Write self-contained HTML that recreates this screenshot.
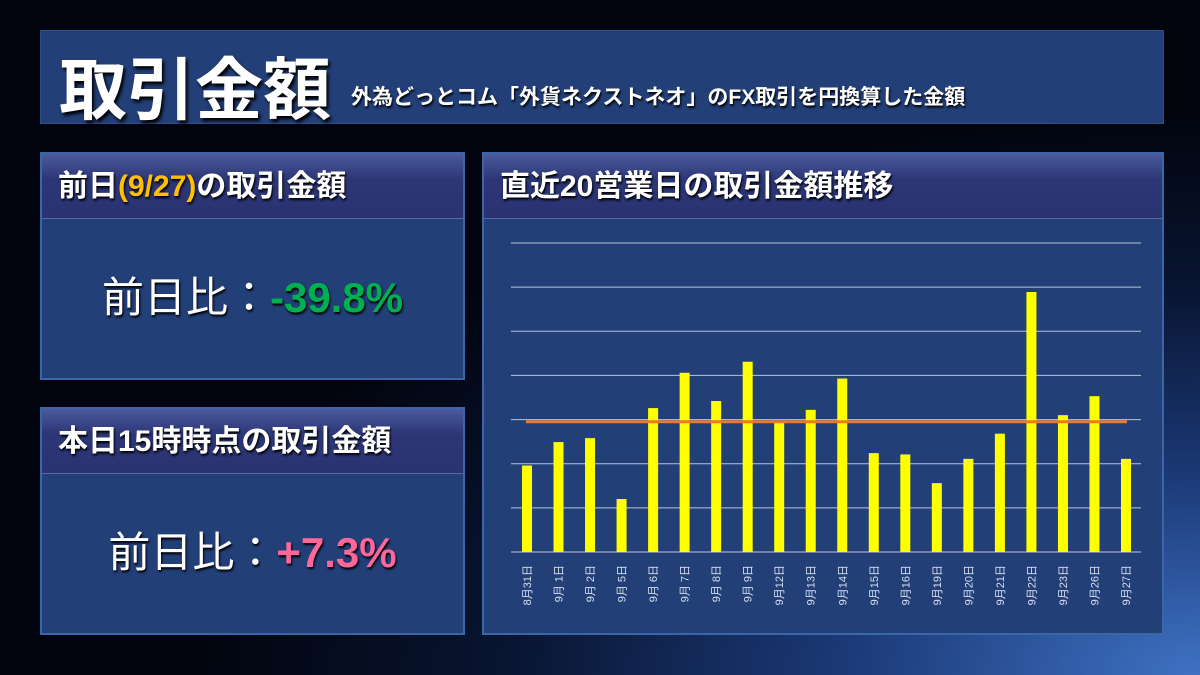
<!DOCTYPE html>
<html><head><meta charset="utf-8"><style>
*{margin:0;padding:0;box-sizing:border-box}
body{width:1200px;height:675px;overflow:hidden;font-family:"Liberation Sans","Noto Sans CJK JP",sans-serif;background:radial-gradient(ellipse 1000px 560px at 1200px 675px,#3f72c4 0%,#1c3a78 35%,#081430 70%,#02050f 100%);position:relative}
.box{position:absolute;background:#233f78;border:2px solid #3b66a8}
.hdr{position:absolute;left:0;top:0;right:0;height:65px;background:linear-gradient(#4a5a9c,#2c3676 40%,#2a3372);border-bottom:1px solid #5a68a8;color:#fff;font-weight:bold;font-size:30px;padding-left:16px;line-height:66px;text-shadow:1px 2px 2px #000}
.big{position:absolute;left:0;right:0;text-align:center;color:#fff;font-size:42px;text-shadow:1px 2px 2px #000}
</style></head><body>
<div class="box" style="left:40px;top:30px;width:1124px;height:94px;border:1px solid #2e4f8c">
<span style="position:absolute;left:18px;top:4px;color:#fff;font-size:68px;font-weight:bold;text-shadow:2px 3px 3px #000">取引金額</span>
<span style="position:absolute;left:310px;top:50px;color:#fff;font-size:21px;font-weight:bold;text-shadow:1px 2px 2px #000">外為どっとコム「外貨ネクストネオ」のFX取引を円換算した金額</span>
</div>
<div class="box" style="left:40px;top:152px;width:425px;height:228px">
<div class="hdr">前日<span style="color:#ffc000">(9/27)</span>の取引金額</div>
<div class="big" style="top:110px">前日比：<span style="color:#00b050;font-weight:bold">-39.8%</span></div>
</div>
<div class="box" style="left:40px;top:407px;width:425px;height:228px">
<div class="hdr">本日15時時点の取引金額</div>
<div class="big" style="top:110px">前日比：<span style="color:#ff6699;font-weight:bold">+7.3%</span></div>
</div>
<div class="box" style="left:482px;top:152px;width:682px;height:483px">
<div class="hdr">直近20営業日の取引金額推移</div>
</div>
<svg id="chart" width="1200" height="675" style="position:absolute;left:0;top:0"></svg>
<script>
const categories=["8月31日","9月 1日","9月 2日","9月 5日","9月 6日","9月 7日","9月 8日","9月 9日","9月12日","9月13日","9月14日","9月15日","9月16日","9月19日","9月20日","9月21日","9月22日","9月23日","9月26日","9月27日"];
const values=[1.96,2.49,2.58,1.20,3.26,4.06,3.42,4.31,2.95,3.22,3.93,2.24,2.21,1.56,2.11,2.68,5.89,3.10,3.53,2.11];
const average=[2.95];
const gridTicks=[0,1,2,3,4,5,6,7];
const NS="http://www.w3.org/2000/svg";
const svg=document.getElementById('chart');
const x0=511,x1=1141,yBase=552,yTop=243,maxV=7;
const y=v=>yBase-(v/maxV)*(yBase-yTop);
const xc=i=>527+i*((1126-527)/(categories.length-1));
function mk(t,a){const e=document.createElementNS(NS,t);for(const k in a)e.setAttribute(k,a[k]);svg.appendChild(e);return e;}
gridTicks.forEach(t=>{
const l=mk('line',{x1:x0,x2:x1,y1:y(t),y2:y(t),stroke:'#b8c4dc','stroke-width':1});


});
values.forEach((v,i)=>{
const r=mk('rect',{x:xc(i)-5,y:y(v),width:10,height:yBase-y(v),fill:'#ffff00'});


const t=mk('text',{x:0,y:0,transform:`translate(${xc(i)+4},565) rotate(-90)`,'text-anchor':'end',fill:'#d8dff0','font-size':11});


t.textContent=categories[i];
});
const al=mk('line',{x1:526,x2:1127,y1:y(average[0]),y2:y(average[0]),stroke:'#f07828','stroke-width':3});


</script>
</body></html>
